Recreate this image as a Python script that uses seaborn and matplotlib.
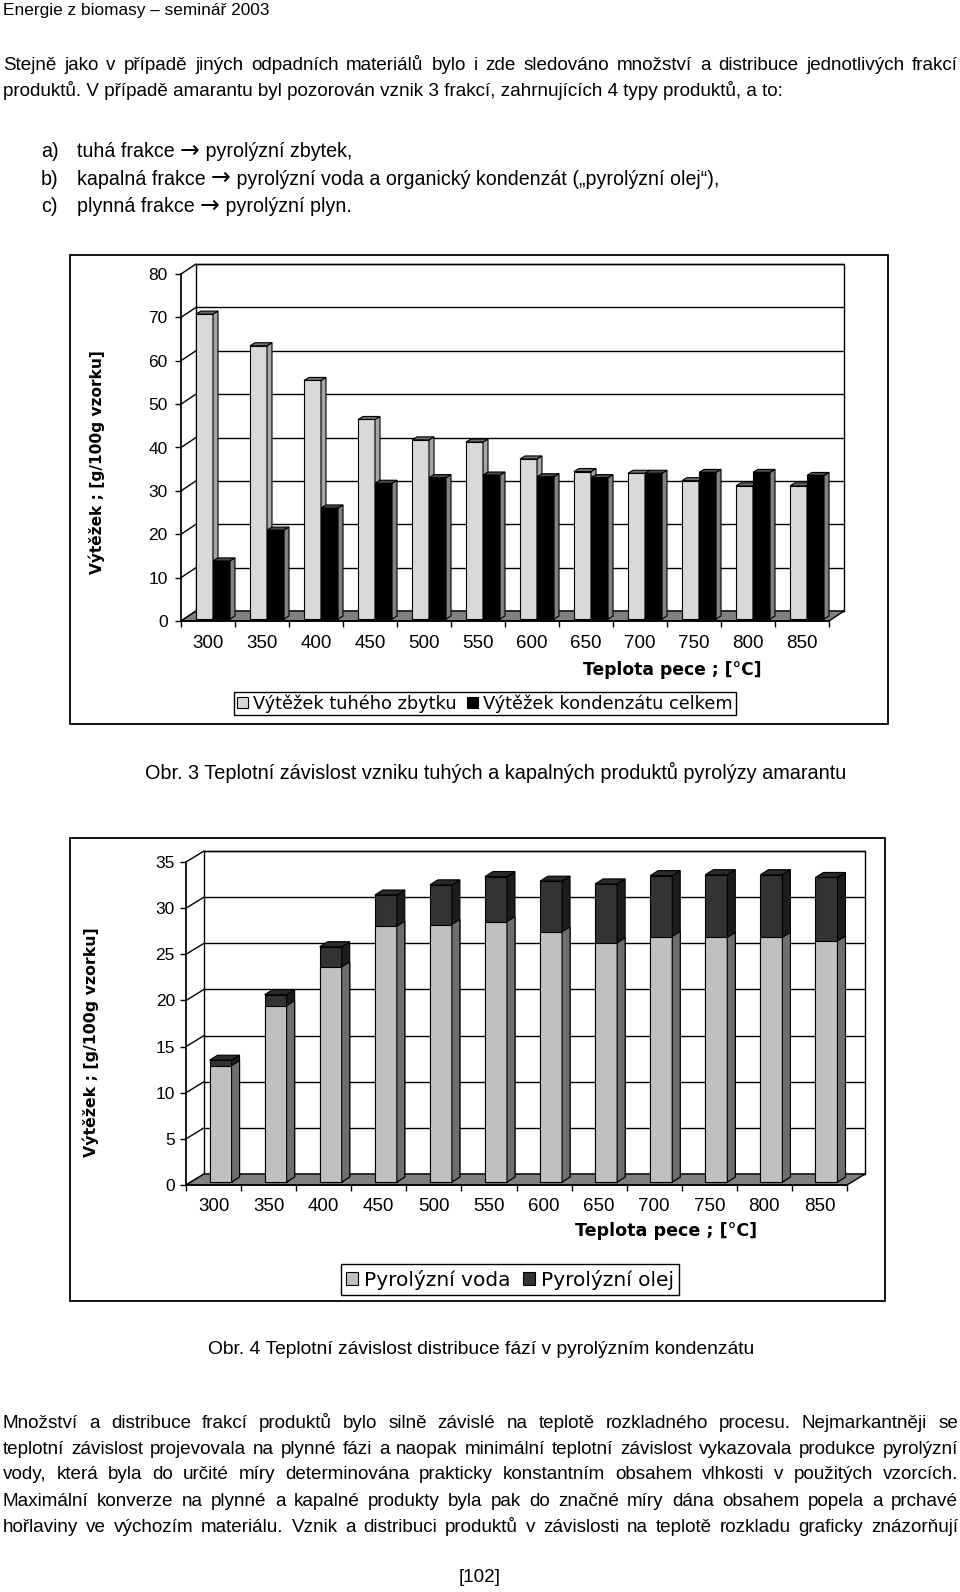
import numpy as np
import pandas as pd
import matplotlib
matplotlib.use("Agg")
import matplotlib.pyplot as plt
import seaborn as sns
from matplotlib import font_manager
from matplotlib.patches import Polygon, Rectangle, Patch
from matplotlib.lines import Line2D
from matplotlib.transforms import IdentityTransform, offset_copy

# --- data -------------------------------------------------------------
teploty = [300, 350, 400, 450, 500, 550, 600, 650, 700, 750, 800, 850]
tuhy_zbytek = [70.3, 63.0, 55.0, 46.0, 41.3, 40.8, 36.9, 34.0, 33.6, 31.9, 30.7, 30.7]
kondenzat = [13.4, 20.5, 25.6, 31.3, 32.6, 33.2, 32.8, 32.6, 33.6, 33.8, 33.8, 33.1]
pyro_voda = [12.6, 19.1, 23.3, 27.7, 27.9, 28.2, 27.1, 25.9, 26.6, 26.5, 26.5, 26.1]
pyro_olej = [0.6, 1.2, 2.2, 3.4, 4.3, 4.9, 5.5, 6.4, 6.6, 6.8, 6.8, 6.9]

serie1 = ["Výtěžek tuhého zbytku", "Výtěžek kondenzátu celkem"]
serie2 = ["Pyrolýzní voda", "Pyrolýzní olej"]
ylabel = "Výtěžek ; [g/100g vzorku]"
xlabel = "Teplota pece ; [°C]"

header = "Energie z biomasy – seminář 2003"
par1 = ["Stejně jako v případě jiných odpadních materiálů bylo i zde sledováno množství a distribuce jednotlivých frakcí",
        "produktů. V případě amarantu byl pozorován vznik 3 frakcí, zahrnujících 4 typy produktů, a to:"]
items = [("a)", "tuhá frakce", "pyrolýzní zbytek,"),
         ("b)", "kapalná frakce", "pyrolýzní voda a organický kondenzát („pyrolýzní olej“),"),
         ("c)", "plynná frakce", "pyrolýzní plyn.")]
cap1 = "Obr. 3 Teplotní závislost vzniku tuhých a kapalných produktů pyrolýzy amarantu"
cap2 = "Obr. 4 Teplotní závislost distribuce fází v pyrolýzním kondenzátu"
par2 = ["Množství a distribuce frakcí produktů bylo silně závislé na teplotě rozkladného procesu. Nejmarkantněji se",
        "teplotní závislost projevovala na plynné fázi a naopak minimální teplotní závislost vykazovala produkce pyrolýzní",
        "vody, která byla do určité míry determinována prakticky konstantním obsahem vlhkosti v použitých vzorcích.",
        "Maximální konverze na plynné a kapalné produkty byla pak do značné míry dána obsahem popela a prchavé",
        "hořlaviny ve výchozím materiálu. Vznik a distribuci produktů v závislosti na teplotě rozkladu graficky znázorňují"]
strana = "[102]"

# --- setup ------------------------------------------------------------
W, H = 960, 1592
sns.set_theme(style="white", rc={"xtick.bottom": True, "ytick.left": True,
                                 "text.color": "black", "xtick.color": "black",
                                 "ytick.color": "black", "axes.edgecolor": "black"})
plt.rcParams["font.family"] = ["Liberation Sans", "DejaVu Sans"]

names = {f.name for f in font_manager.fontManager.ttflist}
BODY = ["Liberation Sans Narrow" if "Liberation Sans Narrow" in names else "Liberation Sans", "DejaVu Sans"]

fig = plt.figure(figsize=(W / 100, H / 100), dpi=100)
R = fig.canvas.get_renderer()


def fx(x):
    return x / W


def fy(y):
    return 1 - y / H


def put(s, x, y, size, family=BODY, va="center", **kw):
    return fig.text(fx(x), fy(y), s, fontsize=size, family=family, va=va, **kw)


def width(t):
    return t.get_window_extent(R).width


def fit(t, w):
    t.set_fontsize(t.get_fontsize() * w / width(t))


def justify(line, y, size, x0=3, x1=958):
    ts = [put(w, 0, y, size) for w in line.split()]
    ws = [width(t) for t in ts]
    gap = (x1 - x0 - sum(ws)) / (len(ts) - 1)
    x = x0
    for t, w in zip(ts, ws):
        t.set_x(fx(x))
        x += w + gap


def arrow_line(lab, left, right, x0, y, size):
    # label, text, wider arrow, text -- all on one baseline
    base = y + 0.33 * size * 100 / 72
    put(lab, 41, base, size, va="baseline")
    parts = [put(left + " ", x0, base, size, va="baseline"),
             put("→", x0, base, size * 1.2, family="DejaVu Sans", va="baseline"),
             put(" " + right, x0, base, size, va="baseline")]
    x = x0
    for t in parts:
        t.set_x(fx(x))
        x += width(t)


# --- page text --------------------------------------------------------
t = put(par1[1], 3, 91, 14)
fit(t, 789)
fs = t.get_fontsize()
fit(put(header, 3, 10, fs), 265)
justify(par1[0], 65, fs)
for (lab, a, b), y in zip(items, [151, 178.5, 206]):
    arrow_line(lab, a, b, 77, y, fs * 1.04)
fit(put(cap1, 145, 772, fs), 697)
fit(put(cap2, 208, 1349, fs), 543)
for line, y in zip(par2, [1423, 1449, 1474.5, 1501, 1527]):
    justify(line, y, fs)
put(strana, 480, 1578, fs, ha="center")


# --- chart helpers ----------------------------------------------------
def walls(ax, n, ymax, step, ox, oy):
    ax.set_xlim(-0.5, n - 0.5)
    ax.set_ylim(0, ymax)
    ax.patch.set_visible(False)
    T = ax.transData

    def front(x, y):
        return tuple(T.transform((x, y)))

    def back(x, y):
        px, py = T.transform((x, y))
        return (px + ox, py + oy)

    kw = dict(transform=IdentityTransform(), clip_on=False)
    ax.add_patch(Polygon([back(-.5, 0), back(n - .5, 0), back(n - .5, ymax), back(-.5, ymax)],
                         fc="white", ec="black", lw=1, zorder=0.5, **kw))
    for v in np.arange(0, ymax + step, step):
        ax.add_line(Line2D(*zip(front(-.5, v), back(-.5, v)), color="black", lw=1, zorder=0.6, **kw))
        ax.add_line(Line2D(*zip(back(-.5, v), back(n - .5, v)), color="black", lw=1, zorder=0.6, **kw))
    ax.add_patch(Polygon([front(-.5, 0), front(n - .5, 0), back(n - .5, 0), back(-.5, 0)],
                         fc="#808080", ec="black", lw=1, zorder=0.7, **kw))

    for s in ["top", "right"]:
        ax.spines[s].set_visible(False)
    ax.set_yticks(np.arange(0, ymax + step, step))
    ax.set_xticks(np.arange(-0.5, n), labels=[])
    ax.set_xticks(np.arange(n), labels=[str(v) for v in teploty], minor=True)
    ax.tick_params(which="major", direction="out", length=4, width=1, color="black")
    ax.set_xlabel("")
    ax.set_ylabel("")


def extrude(ax, p, side, top, dx, dy, z, show_top=True):
    bb = p.get_window_extent(R)
    x0, y0, x1, y1 = bb.x0, bb.y0, bb.x1, bb.y1
    kw = dict(transform=IdentityTransform(), clip_on=False, ec="black", lw=0.8)
    ax.add_patch(Polygon([(x1, y0), (x1 + dx, y0 + dy), (x1 + dx, y1 + dy), (x1, y1)],
                         fc=side, zorder=z, **kw))
    if show_top:
        ax.add_patch(Polygon([(x0, y1), (x1, y1), (x1 + dx, y1 + dy), (x0 + dx, y1 + dy)],
                             fc=top, zorder=z, **kw))


def frame(top, bottom, left, right):
    fig.add_artist(Rectangle((fx(left), fy(bottom)), fx(right) - fx(left), fy(top) - fy(bottom),
                             transform=fig.transFigure, fill=False, ec="black", lw=1.3))


# --- chart 1 ----------------------------------------------------------
frame(255, 724, 70, 888)
ax1 = fig.add_axes([fx(181), fy(621), fx(829) - fx(181), fy(274) - fy(621)])
df1 = pd.DataFrame({"Teplota": teploty * 2,
                    "Výtěžek": tuhy_zbytek + kondenzat,
                    "serie": [serie1[0]] * 12 + [serie1[1]] * 12})
sns.barplot(data=df1, x="Teplota", y="Výtěžek", hue="serie", palette=["#d9d9d9", "#000000"],
            width=0.63, saturation=1, edgecolor="black", linewidth=0.8, errorbar=None, ax=ax1)
walls(ax1, 12, 80, 10, 15, 10)
ax1.tick_params(axis="x", which="minor", length=0, pad=10, labelsize=13.5)
ax1.tick_params(axis="y", labelsize=12.5, pad=5.5)

bars = [(p, side, top) for cont, side, top in zip(ax1.containers, ["#a6a6a6", "#808080"], ["#6f6f6f", "#4a4a4a"])
        for p in cont]
bars.sort(key=lambda b: b[0].get_x())
for i, (p, side, top) in enumerate(bars):
    z = 2 + i * 0.01
    p.set_zorder(z)
    p.set_transform(offset_copy(ax1.transData, fig=fig, x=5, y=2, units="dots"))
    extrude(ax1, p, side, top, 5, 3, z + 0.001)

sns.move_legend(ax1, "center", bbox_to_anchor=(fx(485), fy(703.5)), bbox_transform=fig.transFigure,
                ncol=2, title=None, frameon=True, fancybox=False, edgecolor="black", framealpha=1,
                fontsize=12.8, handlelength=0.6, handleheight=0.6, handletextpad=0.3,
                columnspacing=0.6, borderpad=0.15, borderaxespad=0)
ax1.get_legend().get_frame().set_linewidth(1)
for txt in ax1.get_legend().get_texts():
    txt.set_family("DejaVu Sans")

t = fig.text(fx(96.5), fy(462), ylabel, fontsize=11, family="DejaVu Sans", weight="bold",
             ha="center", va="center")
fit(t, 223)
t.set_rotation(90)
t = fig.text(fx(583), fy(670), xlabel, fontsize=12, family="DejaVu Sans", weight="bold", va="center")
fit(t, 178)

# --- chart 2 ----------------------------------------------------------
frame(838, 1301, 70, 885)
ax2 = fig.add_axes([fx(186), fy(1185), fx(847) - fx(186), fy(862) - fy(1185)])
celkem = [v + o for v, o in zip(pyro_voda, pyro_olej)]
sns.barplot(x=teploty, y=celkem, color="#333333", width=0.4, saturation=1,
            edgecolor="black", linewidth=0.8, errorbar=None, ax=ax2)
sns.barplot(x=teploty, y=pyro_voda, color="#c0c0c0", width=0.4, saturation=1,
            edgecolor="black", linewidth=0.8, errorbar=None, ax=ax2)
walls(ax2, 12, 35, 5, 18, 11)
ax2.tick_params(axis="x", which="minor", length=0, pad=9.5, labelsize=13.5)
ax2.tick_params(axis="y", labelsize=12.5, pad=4)

off2 = offset_copy(ax2.transData, fig=fig, x=7, y=3, units="dots")
for i, (pt, pv) in enumerate(zip(ax2.containers[0], ax2.containers[1])):
    z = 2 + i * 0.01
    pt.set_zorder(z)
    pt.set_transform(off2)
    extrude(ax2, pt, "#1c1c1c", "#2a2a2a", 8, 5, z + 0.001)
    pv.set_zorder(z + 0.002)
    pv.set_transform(off2)
    extrude(ax2, pv, "#6e6e6e", None, 8, 5, z + 0.003, show_top=False)

ax2.legend(handles=[Patch(fc="#c0c0c0", ec="black", lw=0.8), Patch(fc="#333333", ec="black", lw=0.8)],
           labels=serie2, loc="center", bbox_to_anchor=(fx(510), fy(1279.5)), bbox_transform=fig.transFigure,
           ncol=2, frameon=True, fancybox=False, edgecolor="black", framealpha=1,
           prop={"family": "DejaVu Sans", "size": 14.5}, handlelength=0.6, handleheight=0.6,
           handletextpad=0.3, columnspacing=0.6, borderpad=0.25, borderaxespad=0)
ax2.get_legend().get_frame().set_linewidth(1)

t = fig.text(fx(91), fy(1042.5), ylabel, fontsize=11, family="DejaVu Sans", weight="bold",
             ha="center", va="center")
fit(t, 229)
t.set_rotation(90)
t = fig.text(fx(575), fy(1231), xlabel, fontsize=12, family="DejaVu Sans", weight="bold", va="center")
fit(t, 181)

fig.savefig("out.png", dpi=100)
